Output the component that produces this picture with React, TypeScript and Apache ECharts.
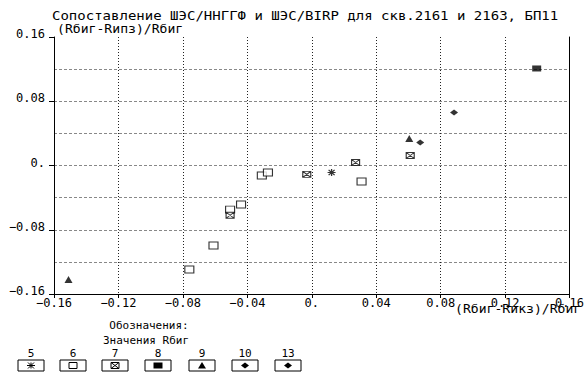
import React, { useEffect, useRef } from "react";
import * as echarts from "echarts";

const titleText = "Сопоставление ШЭС/ННГГФ и ШЭС/BIRP для скв.2161 и 2163, БП11";
const yTitle = "(Rбиг-Rипз)/Rбиг";
const xTitle = "(Rбиг-Rикз)/Rбиг";
const legendTitle1 = "Обозначения:";
const legendTitle2 = "Значения Rбиг";
const legendLabels = ["5", "6", "7", "8", "9", "10", "13"];

const s5: number[][] = [[0.0123, -0.0087]];
const s6: number[][] = [
  [-0.076, -0.1295],
  [-0.061, -0.0996],
  [-0.0507, -0.055],
  [-0.0439, -0.0486],
  [-0.031, -0.0125],
  [-0.0272, -0.0087],
  [0.0309, -0.02],
];
const s7: number[][] = [
  [-0.0507, -0.062],
  [-0.0031, -0.011],
  [0.0272, 0.0037],
  [0.0611, 0.0125],
];
const s8: number[][] = [[0.1396, 0.1208]];
const s9: number[][] = [
  [-0.151, -0.142],
  [0.0605, 0.0336],
];
const s10: number[][] = [[0.0673, 0.0286]];
const s13: number[][] = [[0.0883, 0.066]];

const MONO = "DejaVu Sans Mono";

function fmt(v: number) {
  if (Math.abs(v) < 1e-9) return "0.";
  const s = Math.abs(v).toFixed(2);
  return (v < 0 ? "\u2212" : "") + s;
}

function legendSymbol(i: number, cx: number, cy: number): any[] {
  const k = { stroke: "#000", lineWidth: 1 };
  switch (i) {
    case 0:
      return [
        { type: "line", shape: { x1: cx, y1: cy - 3, x2: cx, y2: cy + 3 }, style: k },
        { type: "line", shape: { x1: cx - 4, y1: cy, x2: cx + 4, y2: cy }, style: k },
        { type: "line", shape: { x1: cx - 3, y1: cy - 3, x2: cx + 3, y2: cy + 3 }, style: k },
        { type: "line", shape: { x1: cx + 3, y1: cy - 3, x2: cx - 3, y2: cy + 3 }, style: k },
      ];
    case 1:
      return [{ type: "rect", shape: { x: cx - 4, y: cy - 3, width: 8, height: 6 }, style: { fill: "#fff", ...k } }];
    case 2:
      return [
        { type: "rect", shape: { x: cx - 4, y: cy - 3, width: 8, height: 6 }, style: { fill: "#fff", ...k } },
        { type: "line", shape: { x1: cx - 4, y1: cy - 3, x2: cx + 4, y2: cy + 3 }, style: k },
        { type: "line", shape: { x1: cx + 4, y1: cy - 3, x2: cx - 4, y2: cy + 3 }, style: k },
      ];
    case 3:
      return [{ type: "rect", shape: { x: cx - 4.5, y: cy - 3, width: 9, height: 6 }, style: { fill: "#000" } }];
    case 4:
      return [{ type: "polygon", shape: { points: [[cx, cy - 3.5], [cx + 4, cy + 3], [cx - 4, cy + 3]] }, style: { fill: "#000" } }];
    default:
      return [{ type: "polygon", shape: { points: [[cx, cy - 3], [cx + 4, cy], [cx, cy + 3], [cx - 4, cy]] }, style: { fill: "#000" } }];
  }
}

export default function App() {
  const ref = useRef<HTMLDivElement>(null);
  useEffect(() => {
    if (!ref.current) return;
    const chart = echarts.init(ref.current, null, { renderer: "svg" });

    const legendCenters = [31, 73, 115, 158, 202, 245, 288];
    const graphics: any[] = [
      { type: "text", x: 52, y: 16, scaleX: 1.22, style: { text: titleText, font: `11.5px "${MONO}"`, fill: "#000", verticalAlign: "middle" } },
      { type: "text", x: 57, y: 29, scaleX: 1.14, style: { text: yTitle, font: `11.5px "${MONO}"`, fill: "#000", verticalAlign: "middle" } },
      { type: "text", x: 455, y: 309, scaleX: 1.14, style: { text: xTitle, font: `11.5px "${MONO}"`, fill: "#000", verticalAlign: "middle" } },
      { type: "text", x: 149, y: 325, style: { text: legendTitle1, font: `11px "${MONO}"`, fill: "#000", align: "center", verticalAlign: "middle" } },
      { type: "text", x: 146, y: 340, style: { text: legendTitle2, font: `11px "${MONO}"`, fill: "#000", align: "center", verticalAlign: "middle" } },
    ];
    legendCenters.forEach((cx, i) => {
      graphics.push({ type: "text", x: cx, y: 353, style: { text: legendLabels[i], font: `11px "${MONO}"`, fill: "#000", align: "center", verticalAlign: "middle" } });
      graphics.push({ type: "rect", shape: { x: cx - 13, y: 360, width: 26, height: 11 }, style: { fill: "#fff", stroke: "#000", lineWidth: 1 } });
      legendSymbol(i, cx, 365.5).forEach((g) => graphics.push(g));
    });

    const hGridColors = ["#888", "#888", "#888", "#888", "#888", "#888", "#888", "#888", "rgba(0,0,0,0)"];

    chart.setOption({
      animation: false,
      backgroundColor: "#fff",
      grid: { left: 54, right: 15, top: 37, bottom: 78, containLabel: false },
      xAxis: {
        type: "value",
        min: -0.16,
        max: 0.16,
        interval: 0.04,
        axisLine: { show: true, onZero: false, lineStyle: { color: "#000", width: 1 } },
        axisTick: { show: true, length: 4, lineStyle: { color: "#000" } },
        axisLabel: { fontFamily: MONO, fontSize: 12, color: "#000", margin: 3, formatter: fmt, showMaxLabel: true, showMinLabel: true },
        splitLine: { show: true, lineStyle: { type: [1, 2], color: "#222", width: 1 } },
      },
      yAxis: [
        {
          type: "value",
          min: -0.16,
          max: 0.16,
          interval: 0.08,
          axisLine: { show: true, onZero: false, lineStyle: { color: "#000", width: 1 } },
          axisTick: { show: true, length: 5, lineStyle: { color: "#000" } },
          axisLabel: { fontFamily: MONO, fontSize: 12, color: "#000", margin: 9, formatter: fmt, verticalAlign: "bottom", lineHeight: 12, padding: [0, 0, -3, 0] },
          splitLine: { show: false },
        },
        {
          type: "value",
          min: -0.16,
          max: 0.16,
          interval: 0.04,
          position: "right",
          axisLine: { show: true, onZero: false, lineStyle: { color: "#000", width: 1 } },
          axisTick: { show: false },
          axisLabel: { show: false },
          splitLine: { show: true, lineStyle: { type: [3, 2], color: hGridColors, width: 1 } },
        },
      ],
      graphic: graphics,
      series: [
        {
          name: "5", type: "scatter", data: s5,
          symbol: "path://M4,0V8 M0,4H8 M1,1L7,7 M7,1L1,7", symbolSize: [8, 7],
          itemStyle: { color: "#000", borderColor: "#000", borderWidth: 1.2 },
        },
        {
          name: "6", type: "scatter", data: s6,
          symbol: "rect", symbolSize: [9, 7],
          itemStyle: { color: "#fff", borderColor: "#000", borderWidth: 1 },
        },
        {
          name: "7", type: "scatter", data: s7,
          symbol: "path://M0,0H8V6H0Z M0,0L8,6 M8,0L0,6", symbolSize: [8, 6],
          itemStyle: { color: "#fff", borderColor: "#000", borderWidth: 1 },
        },
        {
          name: "8", type: "scatter", data: s8,
          symbol: "rect", symbolSize: [9, 6],
          itemStyle: { color: "#000" },
        },
        {
          name: "9", type: "scatter", data: s9,
          symbol: "triangle", symbolSize: [8, 7],
          itemStyle: { color: "#000" },
        },
        {
          name: "10", type: "scatter", data: s10,
          symbol: "diamond", symbolSize: [8, 6],
          itemStyle: { color: "#000" },
        },
        {
          name: "13", type: "scatter", data: s13,
          symbol: "diamond", symbolSize: [8, 6],
          itemStyle: { color: "#000" },
        },
      ],
    });
    return () => chart.dispose();
  }, []);
  return (
    <div
      ref={ref}
      style={{ position: "fixed", left: 0, top: 0, width: 587, height: 372, background: "#fff" }}
    />
  );
}
